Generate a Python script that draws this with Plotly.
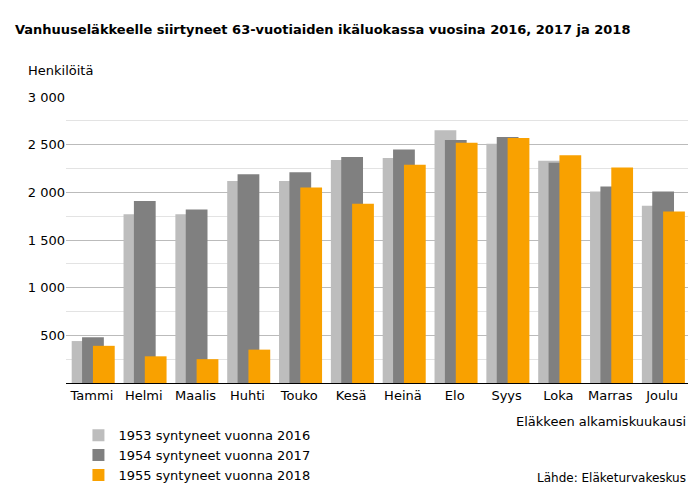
import plotly.graph_objects as go

months = ["Tammi","Helmi","Maalis","Huhti","Touko","Kesä","Heinä","Elo","Syys","Loka","Marras","Joulu"]
s1953 = [440,1770,1770,2120,2120,2340,2360,2650,2510,2330,2010,1860]
s1954 = [480,1910,1820,2190,2210,2370,2450,2550,2580,2310,2060,2010]
s1955 = [390,280,250,350,2050,1880,2290,2520,2570,2390,2260,1800]
names = ["1953 syntyneet vuonna 2016","1954 syntyneet vuonna 2017","1955 syntyneet vuonna 2018"]
colors = ["#BDBDBD","#808080","#F9A100"]
offsets = [-0.39,-0.19,0.02]

fig = go.Figure()
for vals,n,c,o in zip([s1953,s1954,s1955],names,colors,offsets):
    fig.add_bar(x=months,y=vals,name=n,marker_color=c,marker_line_width=0,width=0.42,offset=o)

ticks = [500,1000,1500,2000,2500,3000]
fig.update_layout(
    width=698,height=494,barmode="overlay",plot_bgcolor="white",paper_bgcolor="white",
    font=dict(family="Verdana, DejaVu Sans",size=13,color="black"),
    margin=dict(l=58,r=18,t=89,b=101),
    title=dict(text="<b>Vanhuuseläkkeelle siirtyneet 63-vuotiaiden ikäluokassa vuosina 2016, 2017 ja 2018</b>",
               x=0.01,xanchor="left",y=0.965,font=dict(size=13)),
    xaxis=dict(showline=True,linecolor="black",ticks="",tickfont=dict(size=13)),
    yaxis=dict(range=[0,3000],tickvals=ticks,ticktext=[f"{t:,}".replace(","," ") for t in ticks],
               showgrid=True,gridcolor="#BBBBBB",minor=dict(dtick=250,showgrid=True,gridcolor="#E3E3E3"),
               zeroline=False,tickfont=dict(size=13)),
    legend=dict(orientation="h",x=0.02,y=-0.13,xanchor="left",yanchor="top",entrywidth=270,
                entrywidthmode="pixels",traceorder="normal",font=dict(size=13),
                itemsizing="constant"),
    annotations=[
        dict(text="Henkilöitä",xref="paper",yref="paper",x=-0.065,y=1.125,xanchor="left",showarrow=False,font=dict(size=13)),
        dict(text="Eläkkeen alkamiskuukausi",xref="paper",yref="paper",x=1.0,y=-0.1,yanchor="top",xanchor="right",showarrow=False,font=dict(size=13)),
        dict(text="Lähde: Eläketurvakeskus",xref="paper",yref="paper",x=1.0,y=-0.3,yanchor="top",xanchor="right",showarrow=False,font=dict(size=12)),
    ],
)
fig.write_html("out.html")
